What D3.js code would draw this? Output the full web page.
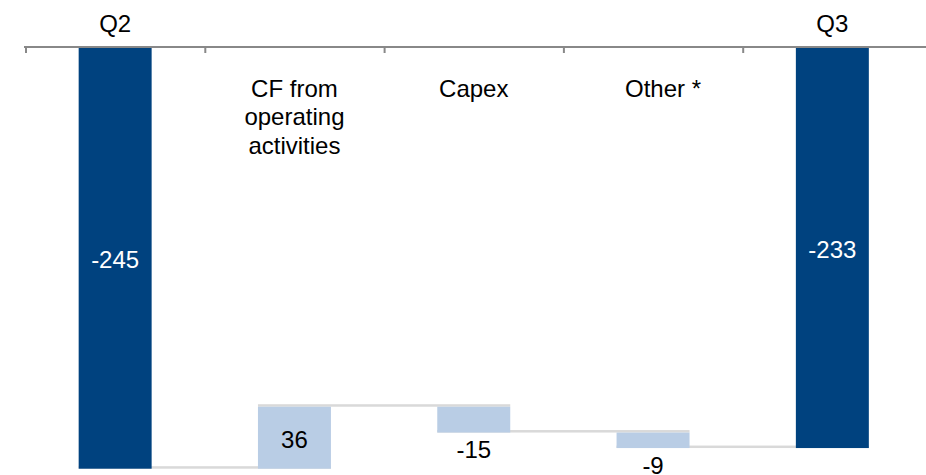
<!DOCTYPE html>
<html>
<head>
<meta charset="utf-8">
<script src="https://cdn.jsdelivr.net/npm/d3@7/dist/d3.min.js"></script>
<style>
  html, body { margin: 0; padding: 0; background: #ffffff; }
  svg { display: block; }
  text { font-family: "Liberation Sans", Arial, sans-serif; }
</style>
</head>
<body>
<svg id="chart" width="926" height="475"></svg>
<script>
// Net debt bridge, Q2 -> Q3
const categories = ["Q2", "CF from operating activities", "Capex", "Other *", "Q3"];
const labelLines = [["Q2"], ["CF from", "operating", "activities"], ["Capex"], ["Other *"], ["Q3"]];
const values = [-245, 36, -15, -9, -233];
const isTotal = [true, false, false, false, true];

const W = 926, H = 475;
const svg = d3.select("#chart");

const colTotal = "#00427F";
const colStep = "#B9CDE5";
const colConnector = "#D9D9D9";
const colAxis = "#888888";

// running levels: each step bar starts where the previous one ended
const bars = [];
let level = 0;
values.forEach((v, i) => {
  if (isTotal[i]) {
    bars.push({ cat: categories[i], v, start: 0, end: v, total: true, lines: labelLines[i] });
    level = v;
  } else {
    bars.push({ cat: categories[i], v, start: level, end: level + v, total: false, lines: labelLines[i] });
    level = level + v;
  }
});

const axisY = 47;
const x = d3.scaleBand().domain(categories).range([25.5, 922]).paddingInner(0.593).paddingOuter(0.2965);
const y = d3.scaleLinear().domain([0, -245]).range([axisY, 468.7]);

// connectors between consecutive bars, drawn behind the bars
const conn = svg.append("g");
for (let i = 0; i < bars.length - 1; i++) {
  const lv = bars[i].end;
  const x0 = x(bars[i].cat);
  const x1 = x(bars[i + 1].cat) + x.bandwidth();
  conn.append("rect")
    .attr("x", x0).attr("y", y(lv) - 2.5)
    .attr("width", x1 - x0).attr("height", 2.5)
    .attr("fill", colConnector);
}

// bars
svg.append("g").selectAll("rect").data(bars).join("rect")
  .attr("x", d => x(d.cat))
  .attr("y", d => Math.min(y(d.start), y(d.end)))
  .attr("width", x.bandwidth())
  .attr("height", d => Math.abs(y(d.start) - y(d.end)))
  .attr("fill", d => d.total ? colTotal : colStep);

// category axis along the top (zero line), ticks at band boundaries
const step = x.step();
const boundaries = categories.map(c => x(c) - (step - x.bandwidth()) / 2);
const axisScale = d3.scaleLinear().domain([0, W]).range([0, W]);
const axisG = svg.append("g").attr("transform", `translate(0,${axisY})`)
  .call(d3.axisTop(axisScale).tickValues(boundaries).tickSizeInner(-6).tickSizeOuter(0).tickFormat(""));
axisG.select(".domain").attr("d", `M24,0H${W}`).attr("stroke", colAxis).attr("stroke-width", 2);
axisG.selectAll(".tick line").attr("stroke", colAxis).attr("stroke-width", 2);

// category labels: totals above the axis, steps below it
const catG = svg.append("g");
bars.forEach(d => {
  const cx = x(d.cat) + x.bandwidth() / 2 + (d.cat.endsWith("*") ? 10 : 0);
  const t = catG.append("text")
    .attr("text-anchor", "middle")
    .attr("font-size", 24)
    .attr("fill", "#000");
  d.lines.forEach((ln, k) => {
    t.append("tspan")
      .attr("x", cx)
      .attr("y", (d.total ? 32 : 97) + k * 28.3)
      .text(ln);
  });
});

// value labels
const fmt = v => (v < 0 ? "-" : "") + Math.abs(v);
svg.append("g").selectAll("text").data(bars).join("text")
  .attr("text-anchor", "middle")
  .attr("font-size", 24)
  .attr("x", d => x(d.cat) + x.bandwidth() / 2)
  .attr("y", d => {
    const top = Math.min(y(d.start), y(d.end));
    const bot = Math.max(y(d.start), y(d.end));
    if (d.total || d.v > 0) return (top + bot) / 2 + 10.5;
    return bot + 25.5;
  })
  .attr("fill", d => d.total ? "#ffffff" : "#000000")
  .text(d => fmt(d.v));
</script>
</body>
</html>
